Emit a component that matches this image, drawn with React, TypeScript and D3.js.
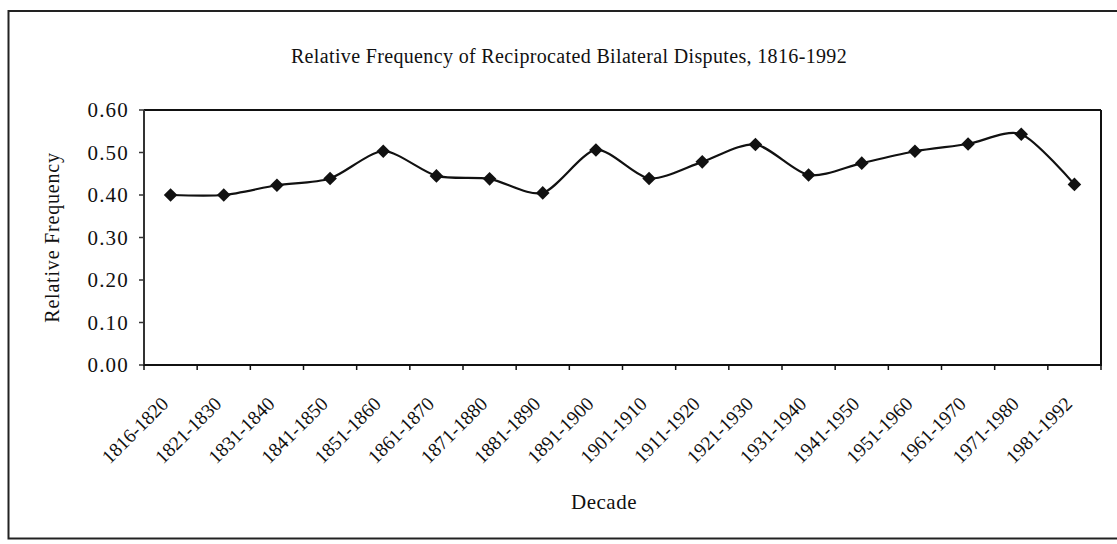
import React from "react";
import * as d3 from "d3";

const decades = [
  "1816-1820", "1821-1830", "1831-1840", "1841-1850", "1851-1860", "1861-1870",
  "1871-1880", "1881-1890", "1891-1900", "1901-1910", "1911-1920", "1921-1930",
  "1931-1940", "1941-1950", "1951-1960", "1961-1970", "1971-1980", "1981-1992",
];
const frequency = [
  0.40, 0.40, 0.423, 0.439, 0.503, 0.445, 0.438, 0.405, 0.506, 0.439,
  0.478, 0.519, 0.447, 0.475, 0.503, 0.52, 0.543, 0.425,
];
const yTicks = [0, 0.1, 0.2, 0.3, 0.4, 0.5, 0.6];

const W = 1117;
const H = 544;
const plot = { left: 144, right: 1101, top: 110, bottom: 365 };
const FONT = "'Liberation Serif', 'Times New Roman', serif";

export default function App() {
  const x = d3.scaleBand<string>().domain(decades).range([plot.left, plot.right]).padding(0);
  const y = d3.scaleLinear().domain([0, 0.6]).range([plot.bottom, plot.top]);
  const cx = (d: string) => (x(d) as number) + x.bandwidth() / 2;

  const line = d3
    .line<number>()
    .x((_, i) => cx(decades[i]))
    .y((v) => y(v))
    .curve(d3.curveCardinal.tension(0.2));

  const diamond = d3.symbol().type(d3.symbolSquare).size(92)() as string;

  const boundaries = decades.map((d) => x(d) as number).concat([plot.right]);

  return (
    <div style={{ position: "absolute", left: 0, top: 0 }}>
      <svg width={W} height={H} style={{ display: "block", background: "#fff" }}>
        {/* outer frame */}
        <rect x={8.5} y={11} width={1120} height={527.5} fill="none" stroke="#222" strokeWidth={2} />
        {/* title */}
        <text x={569} y={63} textAnchor="middle" fontFamily={FONT} fontSize={20} letterSpacing={0.35} fill="#111">
          Relative Frequency of Reciprocated Bilateral Disputes, 1816-1992
        </text>
        {/* plot frame */}
        <line x1={plot.left} x2={plot.right} y1={plot.top} y2={plot.top} stroke="#111" strokeWidth={2} />
        <line x1={plot.right} x2={plot.right} y1={plot.top} y2={plot.bottom} stroke="#111" strokeWidth={2} />
        <line x1={plot.left} x2={plot.left} y1={plot.top} y2={plot.bottom} stroke="#333" strokeWidth={2} />
        <line x1={plot.left - 1} x2={plot.right + 1} y1={plot.bottom} y2={plot.bottom} stroke="#111" strokeWidth={2} />
        {/* y ticks */}
        {yTicks.map((t) => (
          <g key={t}>
            <line x1={plot.left - 5} x2={plot.left} y1={y(t)} y2={y(t)} stroke="#333" strokeWidth={1.5} />
            <text x={plot.left - 15} y={y(t)} dy="0.35em" textAnchor="end" fontFamily={FONT} fontSize={21} letterSpacing={1.2} fill="#111">
              {t.toFixed(2)}
            </text>
          </g>
        ))}
        {/* x ticks */}
        {boundaries.map((b, i) => (
          <line key={i} x1={b} x2={b} y1={plot.bottom} y2={plot.bottom + 5} stroke="#111" strokeWidth={1.5} />
        ))}
        {decades.map((d) => (
          <text
            key={d}
            transform={`translate(${cx(d) - 1},${plot.bottom + 40}) rotate(-45)`}
            textAnchor="end"
            fontFamily={FONT}
            fontSize={19.5}
            fill="#111"
          >
            {d}
          </text>
        ))}
        {/* axis titles */}
        <text
          transform={`translate(59,237.5) rotate(-90)`}
          textAnchor="middle"
          fontFamily={FONT}
          fontSize={20}
          letterSpacing={0.8}
          fill="#111"
        >
          Relative Frequency
        </text>
        <text x={604} y={509} textAnchor="middle" fontFamily={FONT} fontSize={21} letterSpacing={0.5} fill="#111">
          Decade
        </text>
        {/* series */}
        <path d={line(frequency) as string} fill="none" stroke="#111" strokeWidth={2.2} />
        {frequency.map((v, i) => (
          <path key={i} d={diamond} transform={`translate(${cx(decades[i])},${y(v)}) rotate(45)`} fill="#111" />
        ))}
      </svg>
    </div>
  );
}
